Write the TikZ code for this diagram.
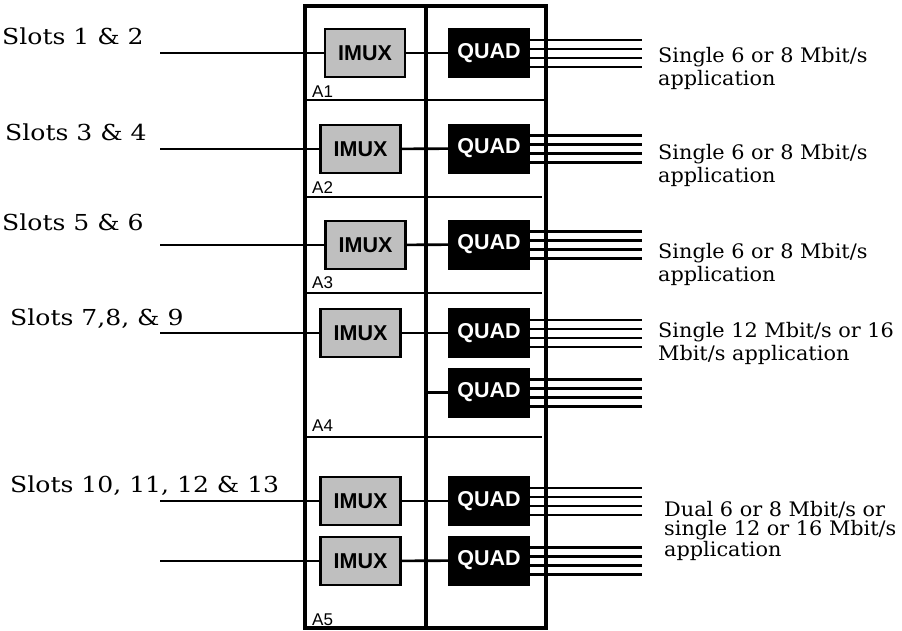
\documentclass[tikz,border=0pt]{standalone}
\usepackage{fontspec}
\setsansfont{Liberation Sans}
\newfontfamily\slotfont[FakeStretch=1.14]{DejaVu Serif}
\newfontfamily\appfont[FakeStretch=1.04]{DejaVu Serif}
\tikzset{
  frame/.style={line width=3.2pt},
  divider/.style={line width=2.4pt},
  wire/.style={line width=2.6pt},
  imux/.style={draw, line width=2.2pt, fill=gray!50, inner sep=0pt,
    minimum width=80, minimum height=48,
    font=\sffamily\bfseries\fontsize{21.5}{21.5}\selectfont},
  quad/.style={fill=black, text=white, inner sep=0pt,
    minimum width=82, minimum height=50,
    font=\sffamily\bfseries\fontsize{21.5}{21.5}\selectfont},
  slotlbl/.style={anchor=base west, inner sep=0pt,
    font=\slotfont\fontsize{22}{26}\selectfont},
  applbl/.style={anchor=base west, inner sep=0pt, align=left,
    font=\appfont\fontsize{20}{23}\selectfont},
  arealbl/.style={anchor=base west, inner sep=0pt,
    font=\sffamily\fontsize{17}{17}\selectfont}
}
\begin{document}
\begin{tikzpicture}[x=1pt,y=-1pt]
    \useasboundingbox (0,0) rectangle (902,630);
    % Khung ngoai va vach giua
    \draw[frame] (305,6) rectangle (546,628);
    \draw[frame] (426,6) -- (426,628);
    % Vach chia cac vung
    \draw[divider] (305,100) -- (546,100);
    \draw[divider] (305,197) -- (542,197);
    \draw[divider] (305,293) -- (542,293);
    \draw[divider] (305,437) -- (542,437);

    % Ten cac vung
    \node[arealbl] (a1) at (312,97) {A1};
    \node[arealbl] (a2) at (312,193) {A2};
    \node[arealbl] (a3) at (312,288) {A3};
    \node[arealbl] (a4) at (312,431) {A4};
    \node[arealbl] (a5) at (312,625) {A5};

    % Cac khoi IMUX
    \node[imux] (imux1) at (365,53) {IMUX};
    \node[imux] (imux2) at (360.5,149) {IMUX};
    \node[imux] (imux3) at (365.5,245) {IMUX};
    \node[imux] (imux4) at (360.5,333) {IMUX};
    \node[imux] (imux5) at (360.5,501) {IMUX};
    \node[imux] (imux6) at (360.5,561) {IMUX};

    % Cac khoi QUAD
    \node[quad] (quad1) at (489,53) {QUAD};
    \node[quad] (quad2) at (489,148.5) {QUAD};
    \node[quad] (quad3) at (489,244.5) {QUAD};
    \node[quad] (quad4) at (489,333) {QUAD};
    \node[quad] (quad5) at (489,392.5) {QUAD};
    \node[quad] (quad6) at (489,501) {QUAD};
    \node[quad] (quad7) at (489,560.5) {QUAD};

    % Nhan khe cam
    \node[slotlbl] (slot1) at (2,44) {Slots 1 \& 2};
    \node[slotlbl] (slot2) at (5,140) {Slots 3 \& 4};
    \node[slotlbl] (slot3) at (2,230) {Slots 5 \& 6};
    \node[slotlbl] (slot4) at (10,325) {Slots 7,8, \& 9};
    \node[slotlbl] (slot5) at (10,492) {Slots 10, 11, 12 \& 13};

    % Day vao
    \foreach \i/\y in {1/53,2/149,3/245,4/333,5/501,6/561}
      \coordinate (in\i) at (160,\y);
    \foreach \i in {1,...,6}
      \draw[wire] (in\i) -- (imux\i);

    % Noi IMUX sang QUAD
    \foreach \i/\j in {1/1,2/2,3/3,4/4,5/6,6/7}
      \draw[wire] (imux\i) -- (quad\j);
    \coordinate (tap5) at (426,392.5);
    \draw[wire] (tap5) -- (quad5);

    % Bon day ra cua moi QUAD
    \foreach \j in {1,...,7}
      \foreach \d in {-13,-4,5,14}
        \draw[wire] (quad\j.east) ++(0,\d) -- ++(112,0);

    % Nhan ung dung (toa do = dong cuoi)
    \node[applbl] (app1) at (658,85) {Single 6 or 8 Mbit/s\\application};
    \node[applbl] (app2) at (658,182) {Single 6 or 8 Mbit/s\\application};
    \node[applbl] (app3) at (658,281) {Single 6 or 8 Mbit/s\\application};
    \node[applbl] (app4) at (658,360) {Single 12 Mbit/s or 16\\Mbit/s application};
    \node[applbl,font=\appfont\fontsize{20}{19}\selectfont] (app5) at (664,556)
      {Dual 6 or 8 Mbit/s or\\single 12 or 16 Mbit/s\\application};
\end{tikzpicture}
\end{document}
